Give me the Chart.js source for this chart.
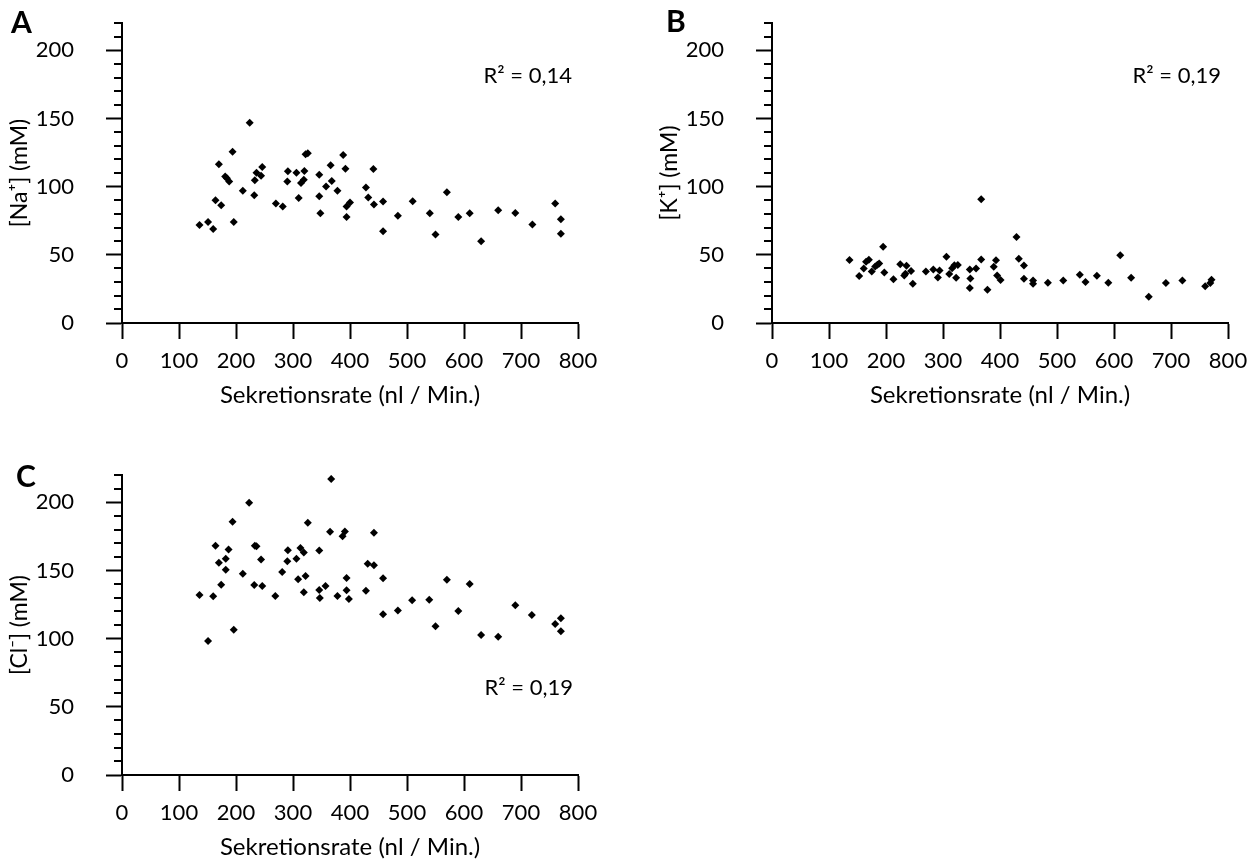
<!DOCTYPE html>
<html>
<head>
<meta charset="utf-8">
<script src="https://cdn.jsdelivr.net/npm/chart.js@4.4.1/dist/chart.umd.min.js"></script>
<style>
  html, body { margin: 0; padding: 0; background: #fff; overflow: hidden; }
  body { width: 1254px; height: 863px; position: relative; font-family: Lato, "Open Sans", sans-serif; color: #000; }
  .panel { position: absolute; width: 600px; height: 420px; }
  .letter { position: absolute; font-weight: bold; font-size: 30px; line-height: 30px; }
  .r2 { position: absolute; width: 140px; text-align: right; font-size: 22px; line-height: 22px; white-space: nowrap; }
</style>
</head>
<body>

<div class="panel" style="left:0px;top:0px"><canvas id="chartNa" width="600" height="420"></canvas></div>
<div class="panel" style="left:650px;top:0px"><canvas id="chartK" width="600" height="420"></canvas></div>
<div class="panel" style="left:0px;top:452px"><canvas id="chartCl" width="600" height="420"></canvas></div>

<div class="letter" style="left:11px;top:6px">A</div>
<div class="letter" style="left:666px;top:5px">B</div>
<div class="letter" style="left:16px;top:460px">C</div>

<div class="r2" style="left:432px;top:64px">R² = 0,14</div>
<div class="r2" style="left:1081px;top:64px">R² = 0,19</div>
<div class="r2" style="left:433px;top:676px">R² = 0,19</div>

<script>
// --- data: [Sekretionsrate (nl/Min.), concentration (mM)] ---
const naPoints = [
  [136, 71.8], [151, 74.0], [160, 68.9], [196, 74.0], [164, 90.0], [174, 86.3],
  [170, 116.4], [194, 125.5], [224, 146.9], [181, 107.5], [184, 106.1], [188, 103.8],
  [212, 96.9], [232, 93.7], [233, 104.6], [236, 110.2], [244, 108.0], [246, 114.4],
  [270, 87.6], [282, 85.4], [291, 111.2], [290, 103.8], [306, 110.2], [310, 91.7],
  [320, 111.4], [314, 102.6], [319, 105.0], [322, 123.8], [326, 124.5], [346, 108.7],
  [346, 93.0], [348, 80.4], [358, 100.1], [366, 115.6], [368, 104.1], [378, 96.9],
  [388, 123.2], [392, 113.1], [394, 85.4], [400, 88.3], [394, 77.7], [428, 99.4],
  [432, 92.0], [441, 112.9], [442, 86.9], [458, 89.1], [458, 67.2], [484, 78.7],
  [510, 89.3], [540, 80.4], [550, 64.9], [570, 95.9], [590, 77.7], [610, 80.4],
  [630, 60.0], [660, 82.7], [690, 80.7], [720, 72.3], [760, 87.6], [770, 76.0],
  [770, 65.5]
];

const kPoints = [
  [136, 46.2], [153, 34.4], [161, 40.0], [165, 44.9], [170, 46.4], [175, 37.8],
  [181, 41.5], [185, 42.7], [188, 43.7], [195, 55.9], [197, 37.0], [213, 32.1],
  [225, 43.1], [236, 41.9], [232, 34.8], [234, 36.2], [244, 38.2], [247, 28.7],
  [270, 37.7], [283, 39.2], [291, 33.3], [294, 38.5], [306, 48.5], [311, 36.0],
  [316, 40.1], [320, 42.3], [323, 33.1], [326, 42.6], [347, 39.2], [348, 32.6],
  [347, 25.7], [358, 39.9], [367, 90.7], [367, 46.5], [378, 24.3], [389, 41.2],
  [393, 46.0], [395, 34.8], [401, 31.6], [429, 63.0], [433, 47.1], [442, 42.2],
  [442, 32.4], [458, 31.1], [458, 28.7], [484, 29.6], [511, 31.1], [540, 35.3],
  [550, 30.1], [570, 34.6], [590, 29.6], [611, 49.7], [630, 33.1], [661, 19.3],
  [691, 29.4], [720, 31.1], [760, 27.0], [769, 29.4], [771, 31.8]
];

const clPoints = [
  [136, 132.0], [151, 98.2], [160, 131.0], [164, 168.2], [170, 155.7], [174, 139.6],
  [182, 158.5], [182, 150.6], [187, 165.3], [194, 185.7], [196, 106.5], [212, 147.6],
  [223, 199.6], [232, 139.3], [233, 168.2], [236, 167.8], [244, 158.0], [246, 138.6],
  [269, 131.3], [281, 148.9], [291, 164.9], [290, 156.8], [306, 158.5], [309, 143.5],
  [313, 166.5], [319, 163.1], [319, 134.0], [322, 146.0], [326, 184.9], [346, 164.6],
  [346, 135.7], [347, 129.8], [357, 138.6], [367, 217.1], [365, 178.3], [378, 131.3],
  [387, 175.1], [391, 178.5], [394, 144.5], [394, 135.4], [398, 129.0], [428, 135.1],
  [431, 155.0], [442, 177.6], [442, 153.8], [458, 144.3], [458, 117.8], [484, 120.7],
  [509, 128.1], [539, 128.5], [550, 109.0], [570, 143.2], [590, 120.2], [610, 140.1],
  [630, 102.6], [660, 101.3], [690, 124.4], [719, 117.3], [760, 110.7], [770, 114.9],
  [770, 105.5]
];

// axis ranges / tick steps
const xRange = [0, 800];
const xStep = 100;
const yRange = [0, 220];
const yMinorStep = 10;
const yMajorStep = 50;
const xTitle = "Sekretionsrate (nl / Min.)";

const FONT = "Lato, 'Open Sans', sans-serif";

// minor ticks on the y axis (Chart.js has no built-in minor ticks)
const minorTicks = {
  id: "minorTicks",
  afterDraw(chart) {
    const y = chart.scales.y;
    const ctx = chart.ctx;
    ctx.save();
    ctx.strokeStyle = "#000";
    ctx.lineWidth = 2;
    for (let v = yRange[0]; v <= yRange[1]; v += yMinorStep) {
      if (v % yMajorStep === 0) continue;
      const py = Math.round(y.getPixelForValue(v));
      ctx.beginPath();
      ctx.moveTo(y.right - 8, py);
      ctx.lineTo(y.right, py);
      ctx.stroke();
    }
    ctx.restore();
  },
};

function scatterPanel(canvasId, points, yTitle) {
  const ctx = document.getElementById(canvasId).getContext("2d");
  return new Chart(ctx, {
    type: "scatter",
    data: {
      datasets: [{
        data: points.map((p) => ({ x: p[0], y: p[1] })),
        pointStyle: "rectRot",
        pointRadius: 4,
        pointBackgroundColor: "#000",
        pointBorderWidth: 0,
      }],
    },
    options: {
      responsive: false,
      animation: false,
      layout: { padding: { top: 23, right: 22, left: 0, bottom: 0 } },
      plugins: { legend: { display: false }, tooltip: { enabled: false } },
      scales: {
        x: {
          type: "linear",
          min: xRange[0],
          max: xRange[1],
          afterFit(scale) {
            scale.height = 97;
            scale.paddingLeft = 0;
            scale.paddingRight = 0;
          },
          ticks: {
            stepSize: xStep,
            maxRotation: 0,
            autoSkip: false,
            padding: 9,
            color: "#000",
            font: { family: FONT, size: 22 },
          },
          grid: {
            drawOnChartArea: false,
            tickLength: 16,
            tickWidth: 2,
            tickColor: "#000",
          },
          border: { display: true, color: "#000", width: 2 },
          title: {
            display: true,
            text: xTitle,
            color: "#000",
            font: { family: FONT, size: 24 },
            padding: { top: 0, bottom: 10 },
          },
        },
        y: {
          type: "linear",
          min: yRange[0],
          max: yRange[1],
          afterFit(scale) {
            // fixed width, and no extra inset from the (empty) top label
            scale.width = 122;
            scale.paddingTop = 0;
            scale.paddingBottom = 0;
          },
          ticks: {
            stepSize: yMinorStep,
            autoSkip: false,
            padding: 32,
            color: "#000",
            font: { family: FONT, size: 22 },
            callback: (v) => (v % yMajorStep === 0 ? v : ""),
          },
          grid: {
            drawOnChartArea: false,
            tickLength: 16,
            tickWidth: 2,
            // only majors drawn here, minors come from the plugin
            tickColor: (c) => (c.tick && c.tick.value % yMajorStep === 0 ? "#000" : "rgba(0,0,0,0)"),
          },
          border: { display: true, color: "#000", width: 2 },
          title: {
            display: true,
            text: yTitle,
            color: "#000",
            font: { family: FONT, size: 23 },
            padding: { top: 6, bottom: 0 },
          },
        },
      },
    },
    plugins: [minorTicks],
  });
}

scatterPanel("chartNa", naPoints, "[Na⁺] (mM)");
scatterPanel("chartK", kPoints, "[K⁺] (mM)");
scatterPanel("chartCl", clPoints, "[Cl⁻] (mM)");
</script>
</body>
</html>
